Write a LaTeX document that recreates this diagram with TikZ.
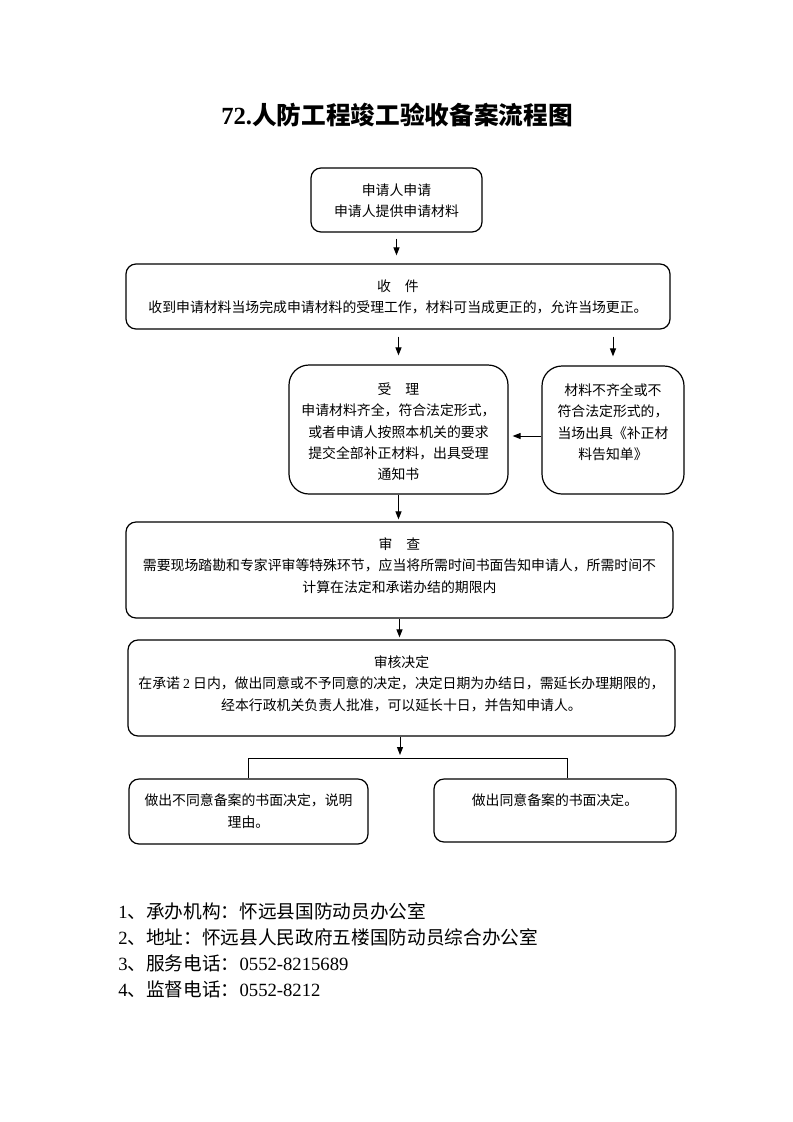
\documentclass[tikz,border=0pt]{standalone}
\usepackage{fontspec}
\setmainfont{Liberation Serif}
\newfontfamily\cjk{Noto Sans CJK SC}
\usetikzlibrary{arrows.meta,positioning}

\begin{document}
\begin{tikzpicture}[
	x=0.75pt, y=-0.75pt,
	box/.style={draw, line width=0.9pt, rounded corners=7.5pt, inner sep=0pt},
	bigbox/.style={box, rounded corners=15pt},
	txt/.style={font=\cjk\fontsize{10.4}{16}\selectfont, align=center, inner sep=0pt},
	edge/.style={-{Triangle[length=6pt, width=4.5pt]}, line width=0.75pt},
	note/.style={anchor=west, inner sep=0pt, font=\fontsize{14}{18}\selectfont},
	]

	\useasboundingbox (0,0) rectangle (793,1122);

	% title
	\node[inner sep=0pt, font=\fontsize{18.5}{22}\selectfont\bfseries] (title) at (397,115)
		{72.{\cjk 人防工程竣工验收备案流程图}};

	% boxes
	\node[box, minimum width=128.25pt, minimum height=48pt]     (apply)   at (396.5,200) {};
	\node[box, minimum width=408pt, minimum height=48.75pt]     (receive) at (398,296.5) {};
	\node[bigbox, minimum width=164.25pt, minimum height=96.75pt] (accept) at (398.5,429.5) {};
	\node[bigbox, minimum width=106.5pt, minimum height=96pt]   (reject)  at (613,430) {};
	\node[box, minimum width=410.25pt, minimum height=72pt]     (review)  at (399.5,570) {};
	\node[box, minimum width=410.25pt, minimum height=72pt]     (decide)  at (401.5,688) {};
	\node[box, minimum width=179.25pt, minimum height=48.75pt]  (refuse)  at (248.5,811.5) {};
	\node[box, minimum width=181.5pt, minimum height=47.25pt]   (approve) at (555,810.5) {};

	% texts
	\node[txt, below=12pt of apply.north] (applytxt)
		{申请人申请\\申请人提供申请材料};
	\node[txt, below=12pt of receive.north] (receivetxt)
		{收　件\\收到申请材料当场完成申请材料的受理工作，材料可当成更正的，允许当场更正。};
	\node[txt, below=13.5pt of accept.north] (accepttxt)
		{受　理\\申请材料齐全，符合法定形式，\\或者申请人按照本机关的要求\\提交全部补正材料，出具受理\\通知书};
	\node[txt, below=13.5pt of reject.north] (rejecttxt)
		{材料不齐全或不\\符合法定形式的，\\当场出具《补正材\\料告知单》};
	\node[txt, below=12pt of review.north] (reviewtxt)
		{审　查\\需要现场踏勘和专家评审等特殊环节，应当将所需时间书面告知申请人，所需时间不\\计算在法定和承诺办结的期限内};
	\node[txt, below=12pt of decide.north] (decidetxt)
		{审核决定\\在承诺 {\rmfamily 2} 日内，做出同意或不予同意的决定，决定日期为办结日，需延长办理期限的，\\经本行政机关负责人批准，可以延长十日，并告知申请人。};
	\node[txt, below=11.5pt of refuse.north] (refusetxt)
		{做出不同意备案的书面决定，说明\\理由。};
	\node[txt, below=11.5pt of approve.north] (approvetxt)
		{做出同意备案的书面决定。};

	% arrows
	\draw[edge, shorten <=4.5pt, shorten >=6pt] (apply.south) -- (apply.south |- receive.north);
	\draw[edge, shorten <=5.25pt, shorten >=6.75pt] (receive.south -| accept.north) -- (accept.north);
	\draw[edge, shorten <=5.25pt, shorten >=6.75pt] (receive.south -| reject.north) -- (reject.north);
	\draw[edge, shorten >=3pt] (reject.west |- 0,436) -- (accept.east |- 0,436);
	\draw[edge, shorten >=1.5pt] (accept.south) -- (accept.south |- review.north);
	\draw[edge, shorten >=1.5pt] (review.south) -- (review.south |- decide.north);

	% split to the two results
	\coordinate (split) at (400,758);
	\draw[edge, shorten >=2.25pt] (decide.south -| split) -- (split);
	\draw[line width=0.75pt] (refuse.north) |- (split) -| ([xshift=9pt]approve.north);

	% notes
	\node[note] (note1) at (118,911) {1{\cjk 、承办机构：怀远县国防动员办公室}};
	\node[note] (note2) at (118,937) {2{\cjk 、地址：怀远县人民政府五楼国防动员综合办公室}};
	\node[note] (note3) at (118,963) {3{\cjk 、服务电话：}0552-8215689};
	\node[note] (note4) at (118,989) {4{\cjk 、监督电话：}0552-8212};

\end{tikzpicture}
\end{document}
